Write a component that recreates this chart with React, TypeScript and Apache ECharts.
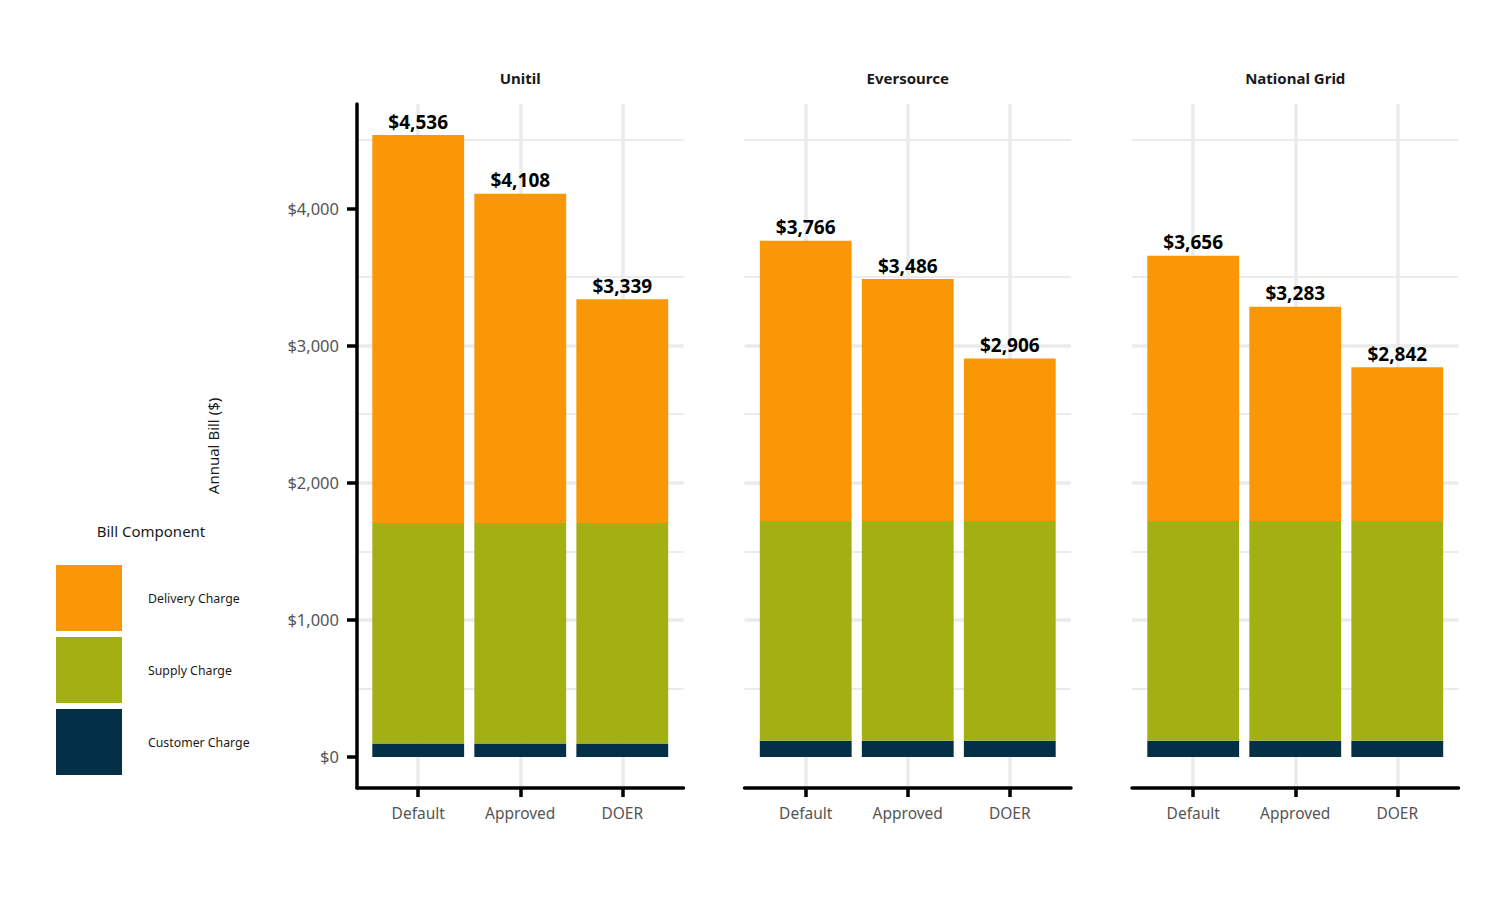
import React, { useEffect, useRef } from "react";
import * as echarts from "echarts";

const companies = ["Unitil", "Eversource", "National Grid"];
const scenarios = ["Default", "Approved", "DOER"];
const totals = [
  [4536, 4108, 3339],
  [3766, 3486, 2906],
  [3656, 3283, 2842],
];
const customerCharge = [
  [98, 98, 98],
  [118, 118, 118],
  [118, 118, 118],
];
const supplyCharge = [
  [1609, 1609, 1609],
  [1603, 1603, 1603],
  [1603, 1603, 1603],
];
const deliveryCharge = [
  [2829, 2401, 1632],
  [2045, 1765, 1185],
  [1935, 1562, 1121],
];
const yTicks = [0, 1000, 2000, 3000, 4000];
const componentNames = ["Customer Charge", "Supply Charge", "Delivery Charge"];
const legendOrder = ["Delivery Charge", "Supply Charge", "Customer Charge"];

const COLORS: Record<string, string> = {
  "Customer Charge": "#033047",
  "Supply Charge": "#A2B014",
  "Delivery Charge": "#FA9706",
};

const FONT = "'Noto Sans', sans-serif";
const PANEL_LEFT = [357, 744.5, 1132];
const PANEL_W = 326.5;
const UNIT = PANEL_W / 3.2;
const PANEL_TOP = 104;
const PANEL_H = 684;
const Y_MAX = 4536 * 1.05;
const Y_MIN = -4536 * 0.05;

function fmtMoney(v: number) {
  return "$" + Math.round(v).toLocaleString("en-US");
}

export default function App() {
  const ref = useRef<HTMLDivElement>(null);
  useEffect(() => {
    if (!ref.current) return;
    const chart = echarts.init(ref.current, undefined, { renderer: "svg" });
    const grids: any[] = [];
    const xAxes: any[] = [];
    const yAxes: any[] = [];
    const series: any[] = [];
    const graphics: any[] = [];
    companies.forEach((comp, p) => {
      const L = PANEL_LEFT[p];
      // Frame grid: axis lines + horizontal grid lines + y labels
      const gF = grids.length;
      grids.push({ left: L, top: PANEL_TOP, width: PANEL_W, height: PANEL_H });
      xAxes.push({
        type: "value",
        gridIndex: gF,
        min: 0,
        max: 1,
        axisLine: { show: true, onZero: false, lineStyle: { color: "#000", width: 3.5 } },
        axisTick: { show: false },
        axisLabel: { show: false },
        splitLine: { show: false },
      });
      yAxes.push({
        type: "value",
        gridIndex: gF,
        min: Y_MIN,
        max: Y_MAX,
        splitNumber: 5,
        axisLine: { show: p === 0, onZero: false, lineStyle: { color: "#000", width: 3.5 } },
        axisTick: {
          show: p === 0,
          customValues: yTicks,
          length: 10,
          lineStyle: { color: "#000", width: 3.5 },
        },
        axisLabel: {
          show: p === 0,
          customValues: yTicks,
          formatter: (v: number) => fmtMoney(v),
          color: "#555555",
          fontFamily: FONT,
          fontSize: 16.5,
          margin: 18,
        },
        splitLine: {
          show: true,
          showMinLine: false,
          showMaxLine: false,
          lineStyle: { color: "#ebebeb", width: 3.5 },
        },
        minorTick: { show: false, splitNumber: 2 },
        minorSplitLine: { show: true, lineStyle: { color: "#ebebeb", width: 2.2 } },
      });
      // Tick grid: vertical grid lines, x ticks and labels at category centres
      const gT = grids.length;
      grids.push({ left: L + 0.6 * UNIT, top: PANEL_TOP, width: 2 * UNIT, height: PANEL_H });
      xAxes.push({
        type: "value",
        gridIndex: gT,
        min: 0,
        max: 2,
        interval: 1,
        axisLine: { show: false },
        axisTick: { show: true, length: 9, lineStyle: { color: "#000", width: 3.5 } },
        axisLabel: {
          show: true,
          formatter: (v: number) => scenarios[Math.round(v)] ?? "",
          color: "#555555",
          fontFamily: FONT,
          fontSize: 15.5,
          margin: 17,
          showMinLabel: true,
          showMaxLabel: true,
        },
        splitLine: {
          show: true,
          showMinLine: true,
          showMaxLine: true,
          lineStyle: { color: "#ebebeb", width: 3.5 },
        },
      });
      yAxes.push({
        type: "value",
        gridIndex: gT,
        min: 0,
        max: 1,
        show: false,
        splitLine: { show: false },
      });
      // Bar grid
      const gB = grids.length;
      grids.push({ left: L + 0.1 * UNIT, top: PANEL_TOP, width: 3 * UNIT, height: PANEL_H });
      xAxes.push({
        type: "category",
        gridIndex: gB,
        data: scenarios,
        show: false,
        boundaryGap: true,
      });
      yAxes.push({
        type: "value",
        gridIndex: gB,
        min: Y_MIN,
        max: Y_MAX,
        show: false,
        splitLine: { show: false },
      });
      const vals: Record<string, number[]> = {
        "Customer Charge": customerCharge[p],
        "Supply Charge": supplyCharge[p],
        "Delivery Charge": deliveryCharge[p],
      };
      componentNames.forEach((name) => {
        const isTop = name === "Delivery Charge";
        series.push({
          type: "bar",
          name,
          xAxisIndex: gB,
          yAxisIndex: gB,
          stack: "panel" + p,
          barWidth: "90%",
          itemStyle: { color: COLORS[name] },
          emphasis: { disabled: true },
          data: vals[name],
          label: isTop
            ? {
                show: true,
                position: "top",
                distance: 4,
                formatter: (prm: any) => fmtMoney(totals[p][prm.dataIndex]),
                color: "#000",
                fontFamily: FONT,
                fontWeight: "bold",
                fontSize: 19,
              }
            : { show: false },
        });
      });
      graphics.push({
        type: "text",
        x: L + PANEL_W / 2,
        y: 78,
        style: {
          text: comp,
          fill: "#1a1a1a",
          font: `bold 15px ${FONT}`,
          textAlign: "center",
          textVerticalAlign: "middle",
        },
      });
    });
    graphics.push({
      type: "text",
      x: 213,
      y: PANEL_TOP + PANEL_H / 2,
      rotation: Math.PI / 2,
      style: {
        text: "Annual Bill ($)",
        fill: "#1a1a1a",
        font: `15px ${FONT}`,
        textAlign: "center",
        textVerticalAlign: "middle",
      },
    });
    graphics.push({
      type: "text",
      x: 151,
      y: 531,
      style: {
        text: "Bill Component",
        fill: "#1a1a1a",
        font: `15px ${FONT}`,
        textAlign: "center",
        textVerticalAlign: "middle",
      },
    });

    chart.setOption({
      animation: false,
      backgroundColor: "#ffffff",
      grid: grids,
      xAxis: xAxes,
      yAxis: yAxes,
      series,
      graphic: graphics,
      legend: {
        data: legendOrder,
        orient: "vertical",
        left: 51,
        top: 560,
        itemWidth: 66,
        itemHeight: 66,
        itemGap: 6,
        icon: "rect",
        selectedMode: false,
        textStyle: {
          fontFamily: FONT,
          fontSize: 12.3,
          color: "#1a1a1a",
          padding: [0, 0, 0, 21],
        },
      },
    });
    return () => chart.dispose();
  }, []);
  return (
    <div
      ref={ref}
      style={{ position: "fixed", left: 0, top: 0, width: 1500, height: 900 }}
    />
  );
}
